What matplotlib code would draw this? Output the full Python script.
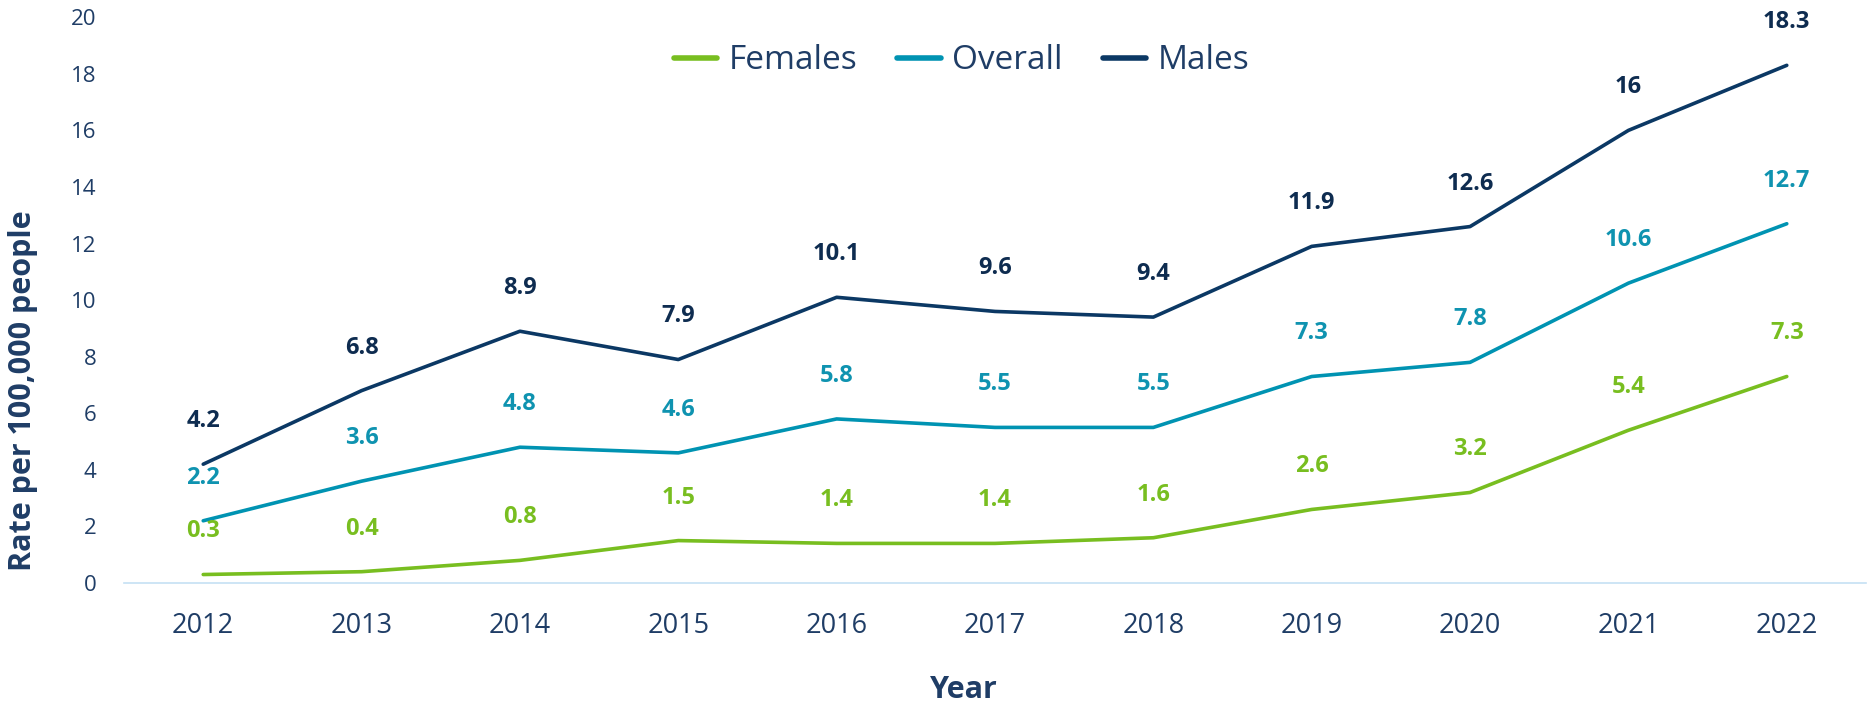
import matplotlib.pyplot as plt

years = ['2012', '2013', '2014', '2015', '2016', '2017', '2018', '2019', '2020', '2021', '2022']
females = [0.3, 0.4, 0.8, 1.5, 1.4, 1.4, 1.6, 2.6, 3.2, 5.4, 7.3]
overall = [2.2, 3.6, 4.8, 4.6, 5.8, 5.5, 5.5, 7.3, 7.8, 10.6, 12.7]
males = [4.2, 6.8, 8.9, 7.9, 10.1, 9.6, 9.4, 11.9, 12.6, 16, 18.3]

text_blue = '#1f3d66'
series = [
    ('Females', females, '#78be20', '#78be20'),
    ('Overall', overall, '#0093b2', '#0f93b0'),
    ('Males', males, '#0b3864', '#0e2c50'),
]

plt.rcParams['font.family'] = ['Open Sans', 'DejaVu Sans']

fig = plt.figure(figsize=(18.71, 7.09), dpi=100)
ax = fig.add_axes([0.0663, 0.1777, 0.931, 0.798])

x = list(range(len(years)))
for name, vals, col, lab_col in series:
    ax.plot(x, vals, color=col, linewidth=2.6, label=name, solid_capstyle='round')
    for xi, v in zip(x, vals):
        ax.annotate(f"{v:g}", (xi, v), xytext=(0, 31), textcoords='offset points',
                    ha='center', va='center', fontsize=17, fontweight='bold',
                    color=lab_col)

ax.set_xlim(-0.5, len(years) - 0.5)
ax.set_ylim(0, 20)
ax.set_yticks(range(0, 21, 2))
ax.set_xticks(x)
ax.set_xticklabels(years)
ax.tick_params(axis='y', length=0, pad=20, labelsize=16, labelcolor=text_blue)
ax.tick_params(axis='x', length=0, pad=21, labelsize=19.5, labelcolor=text_blue)

for s in ['top', 'right', 'left']:
    ax.spines[s].set_visible(False)
ax.spines['bottom'].set_color('#c5e0f4')
ax.spines['bottom'].set_linewidth(1.2)

fig.text(0.0125, 0.4485, 'Rate per 100,000 people', rotation=90, ha='center', va='center',
         fontsize=22, fontweight='bold', color=text_blue)
fig.text(0.515, 0.027, 'Year', ha='center', va='center',
         fontsize=22, fontweight='bold', color=text_blue)

leg = fig.legend(loc='center', bbox_to_anchor=(0.514, 0.914), ncol=3, frameon=False,
                 handlelength=1.3, handletextpad=0.35, columnspacing=1.2, borderpad=0,
                 prop={'size': 24})
for t in leg.get_texts():
    t.set_color(text_blue)
for h in leg.legend_handles:
    h.set_linewidth(4)

fig.savefig('out.png', dpi=100)
